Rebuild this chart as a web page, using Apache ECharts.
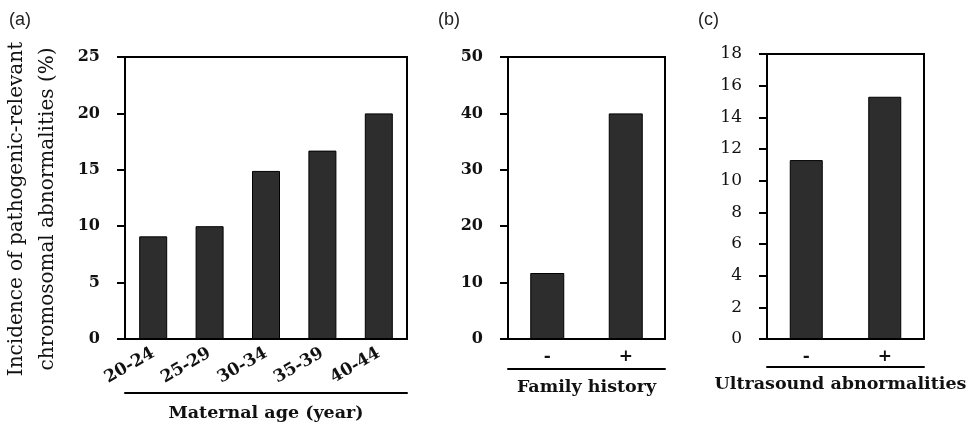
<!DOCTYPE html>
<html>
<head>
<meta charset="utf-8">
<script src="https://cdn.jsdelivr.net/npm/echarts@6/dist/echarts.min.js"></script>
<style>html,body{margin:0;padding:0;background:#fff;}#c{width:972px;height:423px;}</style>
</head>
<body>
<div id="c"></div>
<script>
// ---- data ----
const ageCats = ['20-24', '25-29', '30-34', '35-39', '40-44'];
const ageVals = [9.1, 10.0, 14.9, 16.7, 20.0];
const famCats = ['-', '+'];
const famVals = [11.7, 40.0];
const usCats = ['-', '+'];
const usVals = [11.3, 15.3];
const yTitle = 'Incidence of pathogenic-relevant\nchromosomal abnormalities (%)';
const xTitles = ['Maternal age (year)', 'Family history', 'Ultrasound abnormalities'];
const panelTags = ['(a)', '(b)', '(c)'];

const SERIF = 'DejaVu Serif';
const BAR = '#2d2d2d';
const chart = echarts.init(document.getElementById('c'), null, {renderer: 'canvas'});

const grids = [
  {left: 125, right: 565, top: 57, bottom: 84},
  {left: 508, right: 307, top: 57, bottom: 84},
  {left: 767, right: 48, top: 54, bottom: 84}
];
const cats = [ageCats, famCats, usCats];
const vals = [ageVals, famVals, usVals];
const yMax = [25, 50, 18];
const yInt = [5, 10, 2];
const underlineOffset = [54, 30, 28];
const titleGap = [11, 9, 8];
const titlePad = [[0, 0, 0, 0], [0, 0, 0, 0], [0, 10, 0, 0]];
const barW = [28, 34, 33];

const xAxes = [], yAxes = [], series = [];
grids.forEach((g, i) => {
  g.show = true; g.borderColor = '#000'; g.borderWidth = 2;
  g.containLabel = false; g.outerBoundsMode = 'none';
  xAxes.push({
    type: 'category', gridIndex: i, data: cats[i],
    axisLine: {show: true, lineStyle: {color: '#000', width: 2}},
    axisTick: {show: false},
    axisLabel: {
      color: '#111', fontFamily: SERIF, fontWeight: 'bold', fontSize: 17,
      rotate: i === 0 ? 30 : 0, margin: i === 0 ? 13 : 9, interval: 0
    }
  });
  xAxes.push({
    type: 'category', gridIndex: i, data: cats[i], position: 'bottom', offset: underlineOffset[i],
    axisLine: {show: true, lineStyle: {color: '#000', width: 2}},
    axisTick: {show: false}, axisLabel: {show: false},
    name: xTitles[i], nameLocation: 'middle', nameGap: titleGap[i],
    nameTextStyle: {color: '#111', fontFamily: SERIF, fontWeight: 'bold', fontSize: 17.5, verticalAlign: 'top', padding: titlePad[i]}
  });
  const yA = {
    type: 'value', gridIndex: i, min: 0, max: yMax[i], interval: yInt[i],
    splitLine: {show: false},
    axisLine: {show: true, lineStyle: {color: '#000', width: 2}},
    axisTick: {show: true, inside: false, length: 8, lineStyle: {color: '#000', width: 2}},
    axisLabel: {
      color: '#111', fontFamily: SERIF, fontWeight: i === 2 ? 'normal' : 'bold',
      fontSize: i === 2 ? 17 : 16, margin: 25
    }
  };
  if (i === 0) {
    yA.name = yTitle;
    yA.nameLocation = 'middle';
    yA.nameRotate = 90;
    yA.nameGap = 62;
    yA.nameTextStyle = {color: '#111', fontFamily: SERIF, fontSize: 20, lineHeight: 31, align: 'center', padding: [0, 22, 0, 0]};
  }
  yAxes.push(yA);
  series.push({
    type: 'bar', xAxisIndex: 2 * i, yAxisIndex: i, data: vals[i], barWidth: barW[i],
    itemStyle: {color: BAR, borderColor: '#000', borderWidth: 1},
    silent: true
  });
});

const titles = panelTags.map((t, i) => ({
  text: t, left: [4, 433, 693][i], top: 6,
  textStyle: {fontFamily: 'Liberation Sans', fontWeight: 'normal', fontSize: 18, color: '#222'}
}));

chart.setOption({
  animation: false,
  backgroundColor: '#fff',
  title: titles,
  grid: grids,
  xAxis: xAxes,
  yAxis: yAxes,
  series: series
});
</script>
</body>
</html>
